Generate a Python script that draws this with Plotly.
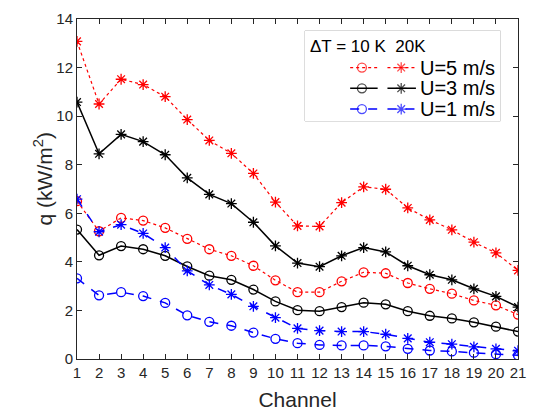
import plotly.graph_objects as go

channels = list(range(1, 22))

# U=5 m/s
u5_10K = [6.5, 5.26, 5.81, 5.70, 5.40, 4.95, 4.52, 4.25, 3.84, 3.24, 2.75, 2.75, 3.20, 3.57, 3.53, 3.13, 2.89, 2.69, 2.41, 2.21, 1.83]
u5_20K = [13.08, 10.50, 11.52, 11.30, 10.80, 9.86, 9.00, 8.47, 7.64, 6.46, 5.48, 5.46, 6.44, 7.09, 6.99, 6.22, 5.73, 5.32, 4.81, 4.37, 3.65]
# U=3 m/s
u3_10K = [5.33, 4.27, 4.65, 4.52, 4.25, 3.81, 3.43, 3.26, 2.86, 2.37, 2.01, 1.97, 2.14, 2.32, 2.25, 1.97, 1.78, 1.67, 1.51, 1.33, 1.13]
u3_20K = [10.58, 8.45, 9.25, 8.95, 8.41, 7.46, 6.78, 6.40, 5.63, 4.66, 3.95, 3.80, 4.25, 4.59, 4.41, 3.84, 3.47, 3.26, 2.89, 2.58, 2.14]
# U=1 m/s
u1_10K = [3.32, 2.62, 2.75, 2.59, 2.31, 1.80, 1.53, 1.37, 1.09, 0.83, 0.65, 0.58, 0.56, 0.56, 0.52, 0.42, 0.35, 0.31, 0.26, 0.20, 0.15]
u1_20K = [6.58, 5.24, 5.53, 5.17, 4.59, 3.63, 3.05, 2.66, 2.17, 1.70, 1.26, 1.17, 1.13, 1.13, 1.02, 0.85, 0.69, 0.61, 0.50, 0.42, 0.34]

x_ticks = list(range(1, 22))
y_ticks = list(range(0, 15, 2))

legend_title = "ΔT = 10 K  20K"
legend_labels = ["U=5 m/s", "U=3 m/s", "U=1 m/s"]

series = [
    (u5_10K, u5_20K, "#ff0000", "dot", 1.2),
    (u3_10K, u3_20K, "#000000", "solid", 1.5),
    (u1_10K, u1_20K, "#0000ff", "dash", 1.5),
]

MS = 9
fig = go.Figure()
for lo, hi, col, dash, w in series:
    fig.add_trace(go.Scatter(
        x=channels, y=lo, mode="lines+markers",
        line=dict(color=col, dash=dash, width=w),
        marker=dict(symbol="circle-open", size=MS, color=col, line=dict(width=1.3, color=col)),
        showlegend=False, xaxis="x", yaxis="y"))
    fig.add_trace(go.Scatter(
        x=channels, y=hi, mode="lines+markers",
        line=dict(color=col, dash=dash, width=w),
        marker=dict(symbol="asterisk-open", size=MS, color=col, line=dict(width=1.3, color=col)),
        showlegend=False, xaxis="x", yaxis="y"))

# Custom legend drawn in an inset axis (units = pixels inside the legend box)
rows_y = [37, 58, 79]
for i, (lo, hi, col, dash, w) in enumerate(series):
    for (x0, xm, x1), sym in [((46, 58, 74), "circle-open"), ((84, 98, 113), "asterisk-open")]:
        fig.add_trace(go.Scatter(
            x=[x0, xm, x1], y=[rows_y[i]] * 3, mode="lines+markers",
            line=dict(color=col, dash=dash, width=w),
            marker=dict(symbol=sym, size=[0, MS, 0], color=col, line=dict(width=1.3, color=col)),
            showlegend=False, xaxis="x2", yaxis="y2", hoverinfo="skip"))
    fig.add_annotation(x=115, y=rows_y[i], xref="x2", yref="y2", text=legend_labels[i],
                       showarrow=False, xanchor="left", yanchor="middle",
                       font=dict(size=20, color="#000000"))
fig.add_annotation(x=3, y=16, xref="x2", yref="y2", text=legend_title,
                   showarrow=False, xanchor="left", yanchor="middle",
                   font=dict(size=17, color="#000000"))

axis_color = "#262626"
# y-axis title as a rotated annotation
fig.add_annotation(x=-0.078, y=0.53, xref="paper", yref="paper", text="q (kW/m<sup>2</sup>)",
                   textangle=-90, showarrow=False, xanchor="center", yanchor="middle",
                   font=dict(size=21, color=axis_color))

fig.update_layout(
    width=536, height=418,
    margin=dict(l=77, r=10, t=17, b=57),
    paper_bgcolor="white", plot_bgcolor="white",
    font=dict(family="Liberation Sans, Arial, sans-serif", color=axis_color),
    xaxis=dict(range=[1, 21], tickvals=x_ticks, ticks="inside", ticklen=5, tickcolor=axis_color,
               showline=True, linecolor=axis_color, linewidth=1, mirror="ticks",
               showgrid=False, zeroline=False, tickfont=dict(size=15),
               title=dict(text="Channel", font=dict(size=21), standoff=12)),
    yaxis=dict(range=[0, 14], tickvals=y_ticks, ticks="inside", ticklen=5, tickcolor=axis_color,
               showline=True, linecolor=axis_color, linewidth=1, mirror="ticks",
               showgrid=False, zeroline=False, tickfont=dict(size=15)),
    xaxis2=dict(domain=[0.517, 0.960], range=[0, 199], visible=False, anchor="y2"),
    yaxis2=dict(domain=[0.70, 0.965], range=[91, 0], visible=False, anchor="x2"),
    shapes=[dict(type="rect", xref="paper", yref="paper", x0=0.517, x1=0.960, y0=0.70, y1=0.965,
                 line=dict(color="#bdbdbd", width=1), fillcolor="white", layer="below")],
)

fig.write_html("out.html")
